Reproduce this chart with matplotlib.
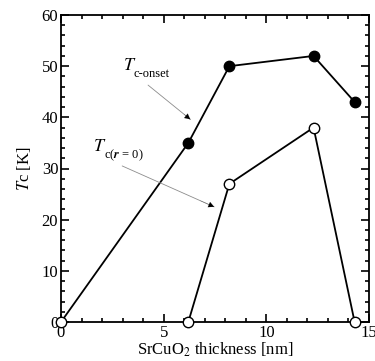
import matplotlib
matplotlib.use('Agg')
import matplotlib.pyplot as plt
from matplotlib.ticker import MultipleLocator

# data
thick_onset = [0, 6.2, 8.2, 12.3, 14.3]
tc_onset = [0, 35, 50, 52, 43]
thick_zero = [6.2, 8.2, 12.3, 14.3]
tc_zero = [0, 27, 38, 0]

plt.rcParams['font.family'] = 'Liberation Serif'
plt.rcParams['mathtext.fontset'] = 'stix'

fig = plt.figure(figsize=(3.75, 3.61), dpi=100)
ax = fig.add_axes([61/375, 39/361, 308/375, 307/361])

ax.plot(thick_onset[1:], tc_onset[1:], color='black', lw=1.3, marker='o',
        ms=7.5, mfc='black', mec='black', clip_on=False, zorder=3)
ax.plot(thick_onset[:2], tc_onset[:2], color='black', lw=1.3, zorder=2, clip_on=False)
ax.plot(thick_zero, tc_zero, color='black', lw=1.3, marker='o', ms=7.5,
        mfc='white', mec='black', mew=1.0, clip_on=False, zorder=3)
ax.plot([thick_onset[0]], [tc_onset[0]], marker='o', ms=7.5, mfc='white',
        mec='black', mew=1.0, clip_on=False, zorder=4)

ax.set_xlim(0, 15)
ax.set_ylim(0, 60)
ax.xaxis.set_major_locator(MultipleLocator(5))
ax.xaxis.set_minor_locator(MultipleLocator(1))
ax.yaxis.set_major_locator(MultipleLocator(10))
ax.yaxis.set_minor_locator(MultipleLocator(2))
ax.tick_params(which='both', direction='in', top=True, right=True, labelsize=12, width=1.2)
ax.tick_params(which='major', length=6, pad=2)
ax.tick_params(which='minor', length=3)
for s in ax.spines.values():
    s.set_linewidth(1.3)

ax.set_xlabel(r'SrCuO$_2$ thickness [nm]', fontsize=12, labelpad=0)
ax.set_ylabel(r'$T$c [K]', fontsize=12, labelpad=6)


def pointer(start, end):
    # thin grey shaft with a black head, like the original
    ax.annotate('', xy=end, xytext=start,
                arrowprops=dict(arrowstyle='-', color='0.55', lw=0.6,
                                shrinkA=0, shrinkB=0))
    f = 0.85
    mid = (start[0] + f * (end[0] - start[0]), start[1] + f * (end[1] - start[1]))
    ax.annotate('', xy=end, xytext=mid,
                arrowprops=dict(arrowstyle='-|>', color='black', lw=0.1,
                                mutation_scale=10, shrinkA=0, shrinkB=0))


# annotations
ax.text(3.0, 49.2, r'$T$', fontsize=13)
ax.text(3.55, 47.9, 'c-onset', fontsize=9)
pointer((4.24, 46.3), (6.3, 39.6))
ax.text(1.55, 33.5, r'$T$', fontsize=13)
ax.text(2.1, 32.0, r'c($\mathbfit{r}$ = 0)', fontsize=9)
pointer((2.98, 30.5), (7.46, 22.5))

fig.savefig('out.png', dpi=100)
